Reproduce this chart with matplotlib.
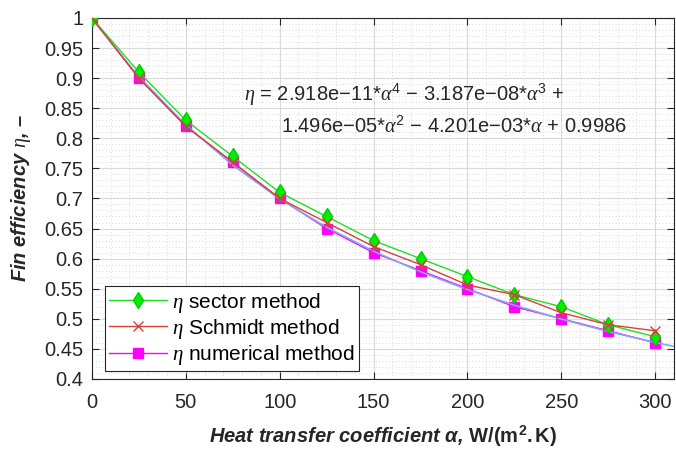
import matplotlib
matplotlib.use('Agg')
import matplotlib.pyplot as plt
from matplotlib.ticker import MultipleLocator

plt.rcParams['font.family'] = ['Liberation Sans', 'DejaVu Sans']
plt.rcParams['mathtext.fontset'] = 'custom'
plt.rcParams['mathtext.rm'] = 'Liberation Sans'
plt.rcParams['mathtext.it'] = 'Liberation Serif:italic'
plt.rcParams['mathtext.bf'] = 'Liberation Sans:bold'

# heat transfer coefficient alpha, W/(m2.K)
alpha = [0, 25, 50, 75, 100, 125, 150, 175, 200, 225, 250, 275, 300]
eta_sector = [1.0, 0.91, 0.83, 0.77, 0.71, 0.67, 0.63, 0.60, 0.57, 0.54, 0.52, 0.49, 0.47]
eta_schmidt = [1.0, 0.90, 0.82, 0.76, 0.70, 0.66, 0.62, 0.59, 0.556, 0.54, 0.51, 0.49, 0.48]
eta_numerical = [1.0, 0.90, 0.82, 0.76, 0.70, 0.65, 0.61, 0.58, 0.55, 0.52, 0.50, 0.48, 0.46]

# polynomial fit curve
alpha_fit = [0, 25, 50, 75, 100, 125, 150, 175, 200, 225, 250, 275, 300, 310]
eta_fit = [0.9986, 0.9024, 0.8222, 0.7552, 0.6992, 0.6521, 0.6123, 0.5781,
           0.5485, 0.5225, 0.4994, 0.4788, 0.4606, 0.4540]

yticks = [0.4, 0.45, 0.5, 0.55, 0.6, 0.65, 0.7, 0.75, 0.8, 0.85, 0.9, 0.95, 1.0]
ytick_labels = ['0.4', '0.45', '0.5', '0.55', '0.6', '0.65', '0.7', '0.75',
                '0.8', '0.85', '0.9', '0.95', '1']

fit_line1 = r'$\eta$ = 2.918e−11*$\alpha^4$ − 3.187e−08*$\alpha^3$ +'
fit_line2 = r'1.496e−05*$\alpha^2$ − 4.201e−03*$\alpha$ + 0.9986'

fig = plt.figure(figsize=(6.76, 4.5), dpi=100)
ax = fig.add_axes([0.136, 0.158, 0.861, 0.802])

ax.plot(alpha, eta_numerical, color='#ff00ff', lw=1.0, marker='s', ms=7.5,
        mfc='#ff00ff', mec='#ff00ff', label=r'$\eta$ numerical method', zorder=3)
ax.plot(alpha_fit, eta_fit, color='#80a8f0', lw=1.2, zorder=4)
ax.plot(alpha, eta_sector, color='#22dd22', lw=1.0, marker='d', ms=8.5,
        mfc='#00ee00', mec='#00cc00', label=r'$\eta$ sector method', zorder=5)
ax.plot(alpha, eta_schmidt, color='#d8403a', lw=1.0, marker='x', ms=7,
        mew=1.0, label=r'$\eta$ Schmidt method', zorder=6)

ax.set_xlim(0, 310)
ax.set_ylim(0.4, 1.0)
ax.xaxis.set_major_locator(MultipleLocator(50))
ax.xaxis.set_minor_locator(MultipleLocator(10))
ax.yaxis.set_minor_locator(MultipleLocator(0.01))
ax.set_yticks(yticks)
ax.set_yticklabels(ytick_labels)

ax.grid(which='major', color='#d9d9d9', lw=0.8, ls='-', zorder=0)
ax.grid(which='minor', color='#cccccc', lw=0.6, ls=(0, (1, 3)), zorder=0)
ax.set_axisbelow(True)

ax.tick_params(which='major', direction='in', top=True, right=True, length=5,
               width=0.8, labelsize=14.5, colors='#262626')
ax.tick_params(axis='x', which='major', pad=10)
ax.tick_params(axis='y', which='major', pad=6)
ax.tick_params(which='minor', length=0)
for s in ax.spines.values():
    s.set_color('#262626')
    s.set_linewidth(0.8)

ax.set_xlabel(r'Heat transfer coefficient α, $\mathbf{W/(m^2.K)}$',
              fontsize=14.5, fontweight='bold', style='italic', color='#262626', labelpad=8)
ax.set_ylabel(r'Fin efficiency $\eta$, –', fontsize=14.5, fontweight='bold',
              style='italic', color='#262626', labelpad=8)

ax.text(81.2, 0.862, fit_line1, fontsize=14.5, color='#262626', va='baseline')
ax.text(100.9, 0.8084, fit_line2, fontsize=14.5, color='#262626', va='baseline')

handles, labels = ax.get_legend_handles_labels()
order = [1, 2, 0]
leg = ax.legend([handles[i] for i in order], [labels[i] for i in order],
                loc='lower left', bbox_to_anchor=(0.022, 0.022), borderaxespad=0,
                fontsize=15, handlelength=2.8, handletextpad=0.25,
                labelspacing=0.1, borderpad=0.2, fancybox=False, framealpha=1)
leg.get_frame().set_edgecolor('#262626')
leg.get_frame().set_linewidth(0.8)

fig.savefig('out.png', dpi=100)
